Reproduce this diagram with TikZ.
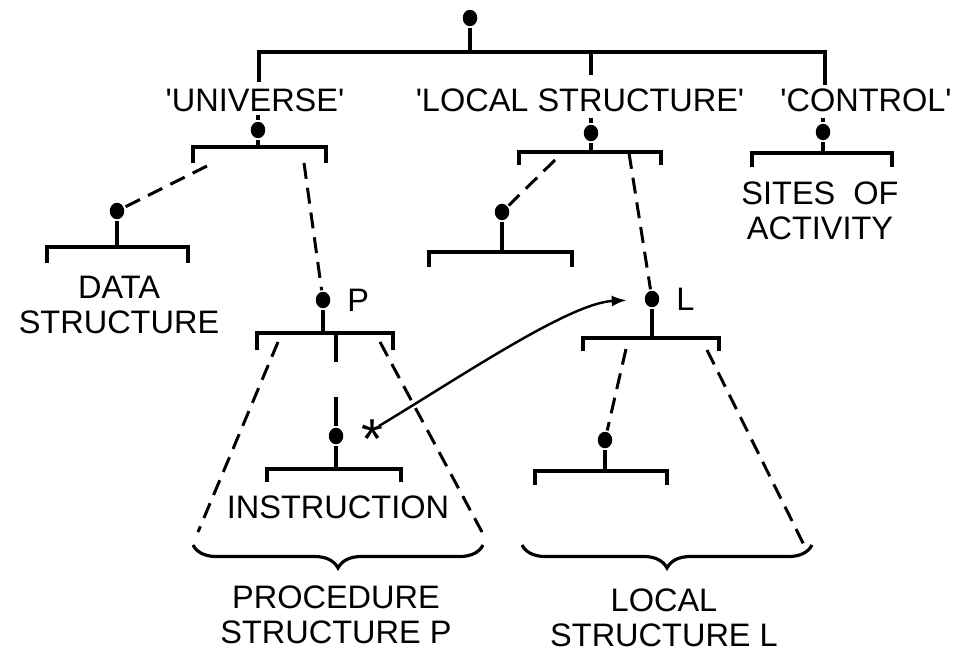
\documentclass[tikz,border=0pt]{standalone}
\usepackage{fontspec}
\setmainfont{Liberation Sans}
\usetikzlibrary{arrows.meta, positioning, shapes.geometric, decorations.pathreplacing}

\newcommand{\tq}{\textquotesingle}

\begin{document}
\begin{tikzpicture}[x=0.02cm, y=-0.02cm, line width=1.8pt,
    blob/.style={ellipse, fill=black, inner sep=0pt, minimum width=0.29cm, minimum height=0.33cm},
    dashline/.style={line width=1.7pt, dash pattern=on 0.32cm off 0.18cm},
    lbl/.style={inner sep=0pt, align=center, font=\fontsize{18.5}{20}\selectfont},
    curly/.style={line width=1.8pt, decorate, decoration={brace, mirror, amplitude=0.46cm}}]
    \useasboundingbox (0,0) rectangle (960,654);

    % root and top bar
    \node[blob] (root) at (470,18) {};
    \coordinate (rootbar) at (470,52);
    \draw (root) -- (rootbar);
    \draw[line width=2.6pt] (259,82) |- (825,52) -- (825,85);
    \draw[line width=2.6pt] (591,52) -- (591,75);

    \node[lbl] (univ)  at (255,100) {\tq UNIVERSE\tq};
    \node[lbl] (local) at (580,100) {\tq LOCAL STRUCTURE\tq};
    \node[lbl] (ctrl)  at (866,100) {\tq CONTROL\tq};

    % universe
    \node[blob] (udot) at (258,130) {};
    \coordinate (utop) at (258,115);
    \coordinate (ubar) at (258,147);
    \draw (utop) -- (udot) -- (ubar);
    \draw (193,163) |- (326,147) -- (326,163);

    % data structure
    \node[blob] (ddot) at (117,211) {};
    \coordinate (dbar) at (117,247);
    \draw (ddot) -- (dbar);
    \draw (47,263) |- (188,247) -- (188,263);
    \node[lbl] (data) at (119,305) {DATA\\STRUCTURE};
    \coordinate (uL) at (207,166);
    \draw[dashline] (uL) -- (ddot);

    % local structure
    \node[blob] (ldot) at (591,133) {};
    \coordinate (ltop) at (591,118);
    \coordinate (lbar) at (591,152);
    \draw (ltop) -- (ldot) -- (lbar);
    \draw (519,165) |- (661,152) -- (661,165);
    \node[blob] (lldot) at (502,212) {};
    \coordinate (llbar) at (502,252);
    \draw (lldot) -- (llbar);
    \draw (429,267) |- (572,252) -- (572,267);
    \coordinate (lL) at (555,160);
    \draw[dashline] (lL) -- (lldot);

    % control
    \node[blob] (cdot) at (823,132) {};
    \coordinate (ctop) at (823,118);
    \coordinate (cbar) at (823,153);
    \draw (ctop) -- (cdot) -- (cbar);
    \draw (752,167) |- (892,153) -- (892,167);
    \node[lbl] (sites) at (820,211) {SITES\ \ OF\\ACTIVITY};

    % procedure P
    \node[blob] (Pdot) at (323,300) {};
    \node[lbl, right=0.28cm of Pdot] (Plbl) {P};
    \coordinate (uR) at (304,163);
    \draw[dashline] (uR) -- (Pdot);
    \coordinate (Pbar) at (323,333);
    \draw (Pdot) -- (Pbar);
    \draw (257,350) |- (393,333) -- (393,350);
    \draw (336,333) -- (336,362);
    \coordinate (itop) at (336,397);
    \node[blob] (idot) at (336,436) {};
    \coordinate (ibar) at (336,469);
    \draw (itop) -- (idot) -- (ibar);
    \draw (267,482) |- (401,469) -- (401,482);
    \node[lbl] (instr) at (338,507) {INSTRUCTION};
    \coordinate (pLa) at (278,342); \coordinate (pLb) at (198,532);
    \coordinate (pRa) at (380,342); \coordinate (pRb) at (482,532);
    \draw[dashline] (pLa) -- (pLb);
    \draw[dashline] (pRa) -- (pRb);
    \coordinate (Pbrl) at (193,545); \coordinate (Pbrr) at (483,545);
    \draw[curly] (Pbrl) -- (Pbrr);
    \node[lbl] (proc) at (336,615) {PROCEDURE\\STRUCTURE P};

    % local structure L
    \node[blob] (Ldot) at (652,299) {};
    \node[lbl, right=0.28cm of Ldot] (Llbl) {L};
    \coordinate (lR) at (629,153);
    \draw[dashline] (lR) -- (Ldot);
    \coordinate (Lbar) at (652,338);
    \draw (Ldot) -- (Lbar);
    \draw (583,351) |- (719,338) -- (719,351);
    \node[blob] (Lldot) at (605,440) {};
    \coordinate (LLa) at (626,349);
    \draw[dashline] (LLa) -- (Lldot);
    \coordinate (Llbar) at (605,471);
    \draw (Lldot) -- (Llbar);
    \draw (535,485) |- (667,471) -- (667,485);
    \coordinate (LRa) at (707,350); \coordinate (LRb) at (805,547);
    \draw[dashline] (LRa) -- (LRb);
    \coordinate (Lbrl) at (522,545); \coordinate (Lbrr) at (812,545);
    \draw[curly] (Lbrl) -- (Lbrr);
    \node[lbl] (locl) at (664,618) {LOCAL\\STRUCTURE L};

    % pointer from the instruction to L
    \node[lbl, font=\fontsize{32}{32}\selectfont] (ast) at (372,439) {*};
    \coordinate (astout) at ([shift={(7,-13)}]ast.center);
    \draw[-{Latex[length=0.3cm,width=0.22cm]}, line width=1.4pt, shorten >=0.33cm]
        (astout) .. controls (465,374) and (570,303) .. (Ldot);
\end{tikzpicture}
\end{document}
